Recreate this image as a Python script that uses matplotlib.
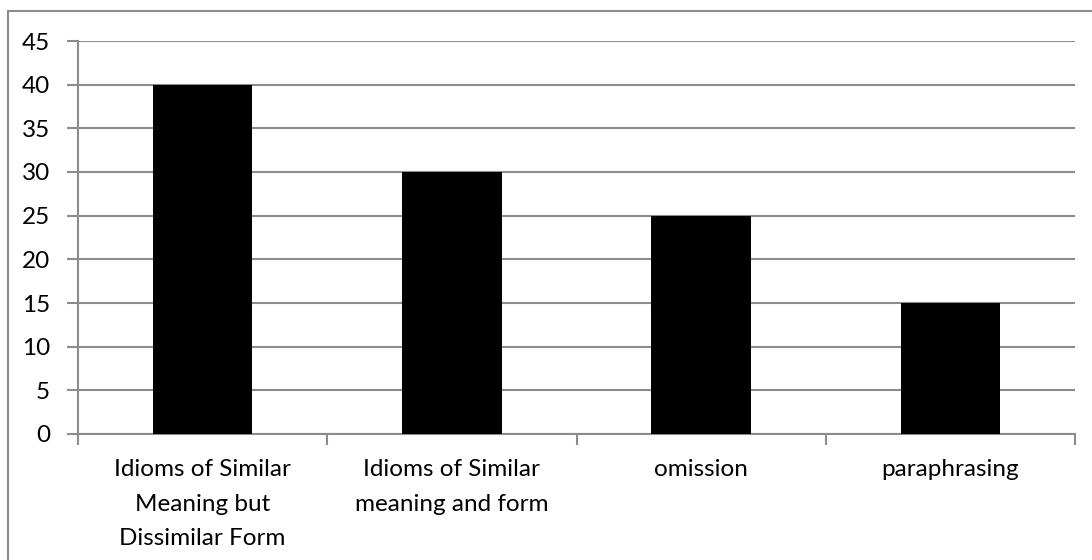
import matplotlib
matplotlib.use("Agg")
import matplotlib.pyplot as plt
from matplotlib.patches import Rectangle

categories = [
    "Idioms of Similar\nMeaning but\nDissimilar Form",
    "Idioms of Similar\nmeaning and form",
    "omission",
    "paraphrasing",
]
values = [40, 30, 25, 15]
y_ticks = list(range(0, 50, 5))

GRID = "#8c8c8c"

plt.rcParams["font.family"] = ["Lato", "DejaVu Sans"]

fig = plt.figure(figsize=(10.92, 5.6), dpi=100)
ax = fig.add_axes([78 / 1092, 1 - 434 / 560, (1075 - 78) / 1092, (434 - 41) / 560])

x = range(len(values))
ax.bar(x, values, width=0.4, color="black", zorder=3)
ax.set_xlim(-0.5, len(values) - 0.5)
ax.set_ylim(0, 45)
ax.set_yticks(y_ticks)
ax.yaxis.grid(True, color=GRID, linewidth=1.5, zorder=0)
ax.set_axisbelow(True)

# category labels under each bar, boundaries marked with ticks
ax.set_xticks(list(x))
ax.set_xticklabels(categories, fontsize=17.5, linespacing=1.8)
ax.tick_params(axis="x", length=0, pad=18)
ax.set_xticks([i - 0.5 for i in range(len(values) + 1)], minor=True)
ax.tick_params(axis="x", which="minor", length=8, width=1.5, color=GRID, direction="out")
ax.tick_params(axis="y", length=8, width=1.5, color=GRID, labelsize=17.5, pad=12)

for side in ["top", "right"]:
    ax.spines[side].set_visible(False)
for side in ["left", "bottom"]:
    ax.spines[side].set_color(GRID)
    ax.spines[side].set_linewidth(1.5)

# chart border
fig.patches.append(Rectangle((8 / 1092, -0.1), 1.2, 1 - 11 / 560 + 0.1,
                             transform=fig.transFigure, fill=False,
                             edgecolor=GRID, linewidth=1.5))

fig.savefig("out.png", dpi=100, facecolor="white")
